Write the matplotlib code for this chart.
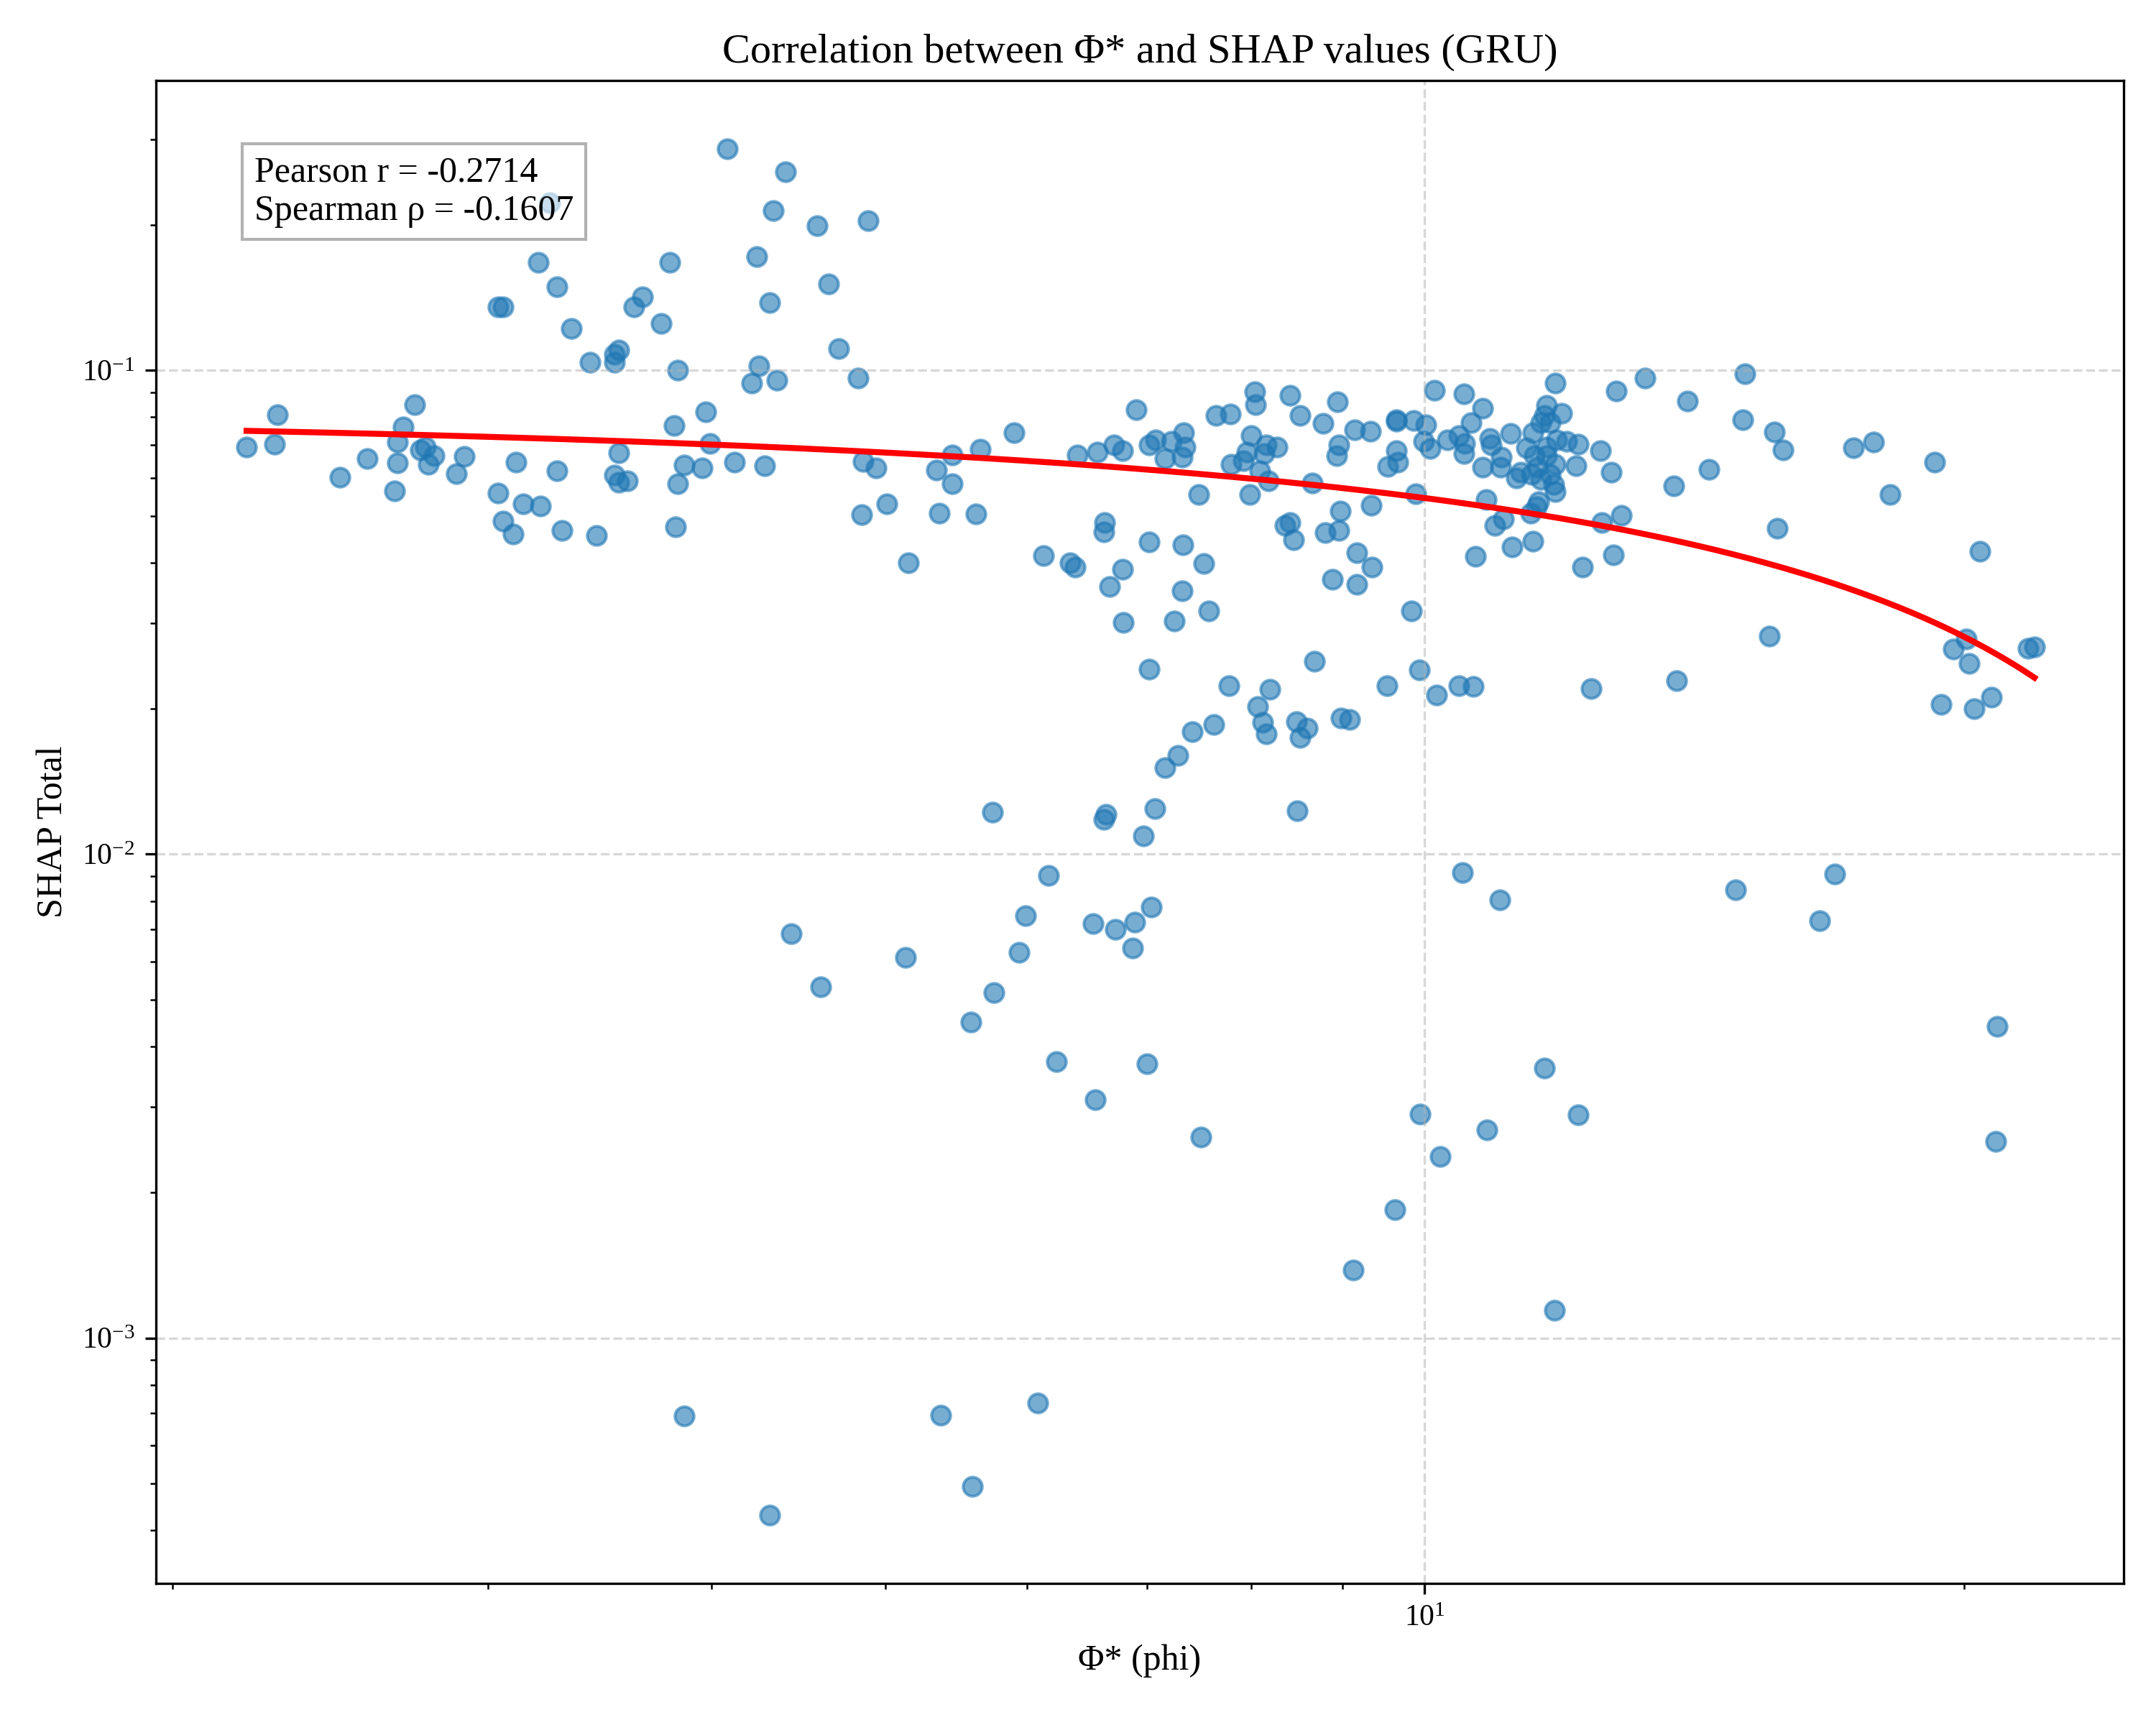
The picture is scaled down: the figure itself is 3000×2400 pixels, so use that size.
#!/usr/bin/env python3
"""Scatter of phi* against total SHAP value for the GRU model, log-log."""

import numpy as np
import matplotlib

matplotlib.use("Agg")
import matplotlib.pyplot as plt

plt.rcParams["font.family"] = ["Liberation Serif", "DejaVu Serif"]
plt.rcParams["mathtext.fontset"] = "stix"

# phi* per feature
phi = [
    3.25, 3.20, 3.79, 3.28, 3.66, 3.62, 3.04, 3.06, 3.75, 3.34,
    3.55, 3.53, 3.53, 3.42, 3.83, 2.29, 2.73, 3.81, 2.69, 2.20,
    2.28, 2.67, 2.75, 2.77, 2.80, 2.91, 2.57, 2.67, 2.78, 3.55,
    3.11, 3.28, 2.88, 2.48, 3.53, 3.55, 3.59, 3.83, 3.86, 2.66,
    3.04, 3.14, 3.21, 3.06, 3.10, 3.30, 3.45, 3.82,
    4.08, 4.40, 4.33, 4.58, 4.89, 4.24, 4.65, 4.31, 4.71, 4.25,
    4.21, 4.35, 4.83, 6.90, 3.97,
    3.99, 3.95, 4.12, 4.28, 5.90, 4.86, 4.94, 5.45, 5.65, 5.34,
    5.45, 5.01, 4.85, 5.36, 5.62, 5.15, 6.40, 6.57, 6.71, 6.78,
    6.63, 6.62, 6.13, 6.34, 6.38, 6.78, 6.67, 6.79, 5.74, 6.64,
    6.62, 6.97,
    8.04, 8.05, 8.41, 7.65, 7.79, 8.52, 8.94, 8.78, 9.14, 9.33,
    9.64, 9.64, 9.86, 10.02, 10.13, 10.52, 10.77, 10.62, 11.83, 12.79,
    13.27, 7.08, 7.22, 7.34, 7.35, 7.16, 7.32, 7.02, 8.00, 7.96,
    7.92, 7.80, 8.16, 8.27, 8.14, 8.09, 8.18, 7.99, 7.48, 8.96,
    8.93, 8.66, 9.64, 9.66, 9.54, 9.99, 10.07, 10.30, 10.45, 10.53,
    10.52, 10.87, 10.89, 11.17, 10.77, 11.04, 11.03, 11.25, 11.31, 9.89,
    9.34, 8.97, 10.82, 11.07, 10.94, 11.46, 11.19, 11.49, 10.68, 11.70,
    11.93, 11.66, 11.75, 11.61, 11.49, 11.85, 12.00, 12.18, 11.40, 11.70,
    11.52, 11.70, 11.83, 11.56, 11.47, 11.75, 11.61, 11.81, 11.83, 11.58,
    11.55, 12.15, 12.54, 12.71, 12.56, 12.88, 12.75, 12.25, 7.02, 7.33,
    7.53, 7.32, 7.25, 7.58, 8.36, 8.41, 8.45, 8.80, 8.96, 9.17,
    9.35, 8.88, 9.17, 9.83, 8.68, 7.78, 8.20, 8.07, 8.12, 8.16,
    8.48, 8.60, 8.52, 8.98, 9.08, 9.53, 9.93, 10.16, 10.45, 10.65,
    12.39, 7.63, 7.42, 7.28, 7.16, 7.02, 7.07, 8.49,
    14.02, 15.10, 15.05, 15.67, 15.85, 17.35, 17.81, 19.26, 18.19, 13.77,
    14.41, 15.74, 20.41, 15.58, 13.83, 20.06, 19.73, 20.14, 21.72, 21.90,
    19.43, 20.27, 20.72,
    6.17, 5.99, 7.04, 6.53, 6.72, 6.89, 6.87, 4.43, 5.13, 5.94,
    4.60, 5.75, 5.58, 6.23, 7.00, 6.55, 7.50, 9.12, 3.86, 5.37,
    6.08, 5.59, 4.31,
    10.50, 11.02, 14.92, 16.94, 16.61, 20.88, 11.66, 9.94, 12.18, 10.83,
    10.20, 20.84, 9.63, 11.82,
]

# total SHAP value, same order as phi
shap_total = [
    0.222, 0.167, 0.167, 0.149, 0.142, 0.135, 0.135, 0.135, 0.125, 0.122,
    0.110, 0.108, 0.104, 0.104, 0.100, 0.0808, 0.0848, 0.0769, 0.0763, 0.0694,
    0.0704, 0.0710, 0.0684, 0.0694, 0.0667, 0.0664, 0.0656, 0.0644, 0.0640, 0.0675,
    0.0646, 0.0620, 0.0612, 0.0602, 0.0608, 0.0586, 0.0590, 0.0582, 0.0637, 0.0563,
    0.0557, 0.0530, 0.0524, 0.0488, 0.0458, 0.0467, 0.0455, 0.0474,
    0.287, 0.257, 0.214, 0.199, 0.204, 0.172, 0.151, 0.138, 0.111, 0.102,
    0.0942, 0.0955, 0.0964, 0.0829, 0.0821,
    0.0707, 0.0628, 0.0645, 0.0635, 0.0742, 0.0649, 0.0628, 0.0669, 0.0686, 0.0621,
    0.0583, 0.0530, 0.0503, 0.0507, 0.0505, 0.0400, 0.0669, 0.0677, 0.0702, 0.0683,
    0.0485, 0.0463, 0.0414, 0.0400, 0.0392, 0.0388, 0.0357, 0.0301, 0.0122, 0.0121,
    0.0118, 0.0109,
    0.0903, 0.0850, 0.0888, 0.0806, 0.0812, 0.0806, 0.0861, 0.0776, 0.0752, 0.0748,
    0.0790, 0.0785, 0.0788, 0.0772, 0.0908, 0.0895, 0.0835, 0.0779, 0.0940, 0.0906,
    0.0964, 0.0718, 0.0712, 0.0742, 0.0695, 0.0656, 0.0662, 0.0700, 0.0732, 0.0677,
    0.0651, 0.0640, 0.0700, 0.0695, 0.0674, 0.0620, 0.0590, 0.0554, 0.0553, 0.0700,
    0.0667, 0.0585, 0.0683, 0.0645, 0.0632, 0.0714, 0.0689, 0.0718, 0.0732, 0.0706,
    0.0674, 0.0723, 0.0700, 0.0740, 0.0630, 0.0662, 0.0630, 0.0599, 0.0615, 0.0556,
    0.0526, 0.0512, 0.0540, 0.0493, 0.0478, 0.0506, 0.0432, 0.0443, 0.0413, 0.0846,
    0.0816, 0.0806, 0.0779, 0.0779, 0.0742, 0.0718, 0.0712, 0.0704, 0.0692, 0.0695,
    0.0667, 0.0667, 0.0640, 0.0630, 0.0610, 0.0610, 0.0594, 0.0581, 0.0561, 0.0535,
    0.0522, 0.0635, 0.0681, 0.0615, 0.0485, 0.0501, 0.0415, 0.0392, 0.0442, 0.0436,
    0.0399, 0.0350, 0.0303, 0.0318, 0.0478, 0.0485, 0.0447, 0.0462, 0.0467, 0.0420,
    0.0392, 0.0370, 0.0361, 0.0318, 0.0250, 0.0223, 0.0219, 0.0202, 0.0187, 0.0177,
    0.0188, 0.0182, 0.0174, 0.0191, 0.0190, 0.0223, 0.0240, 0.0213, 0.0223, 0.0222,
    0.0220, 0.0185, 0.0179, 0.0160, 0.0151, 0.0241, 0.0124, 0.0123,
    0.0863, 0.0982, 0.0790, 0.0745, 0.0684, 0.0692, 0.0711, 0.0646, 0.0553, 0.0576,
    0.0625, 0.0472, 0.0422, 0.0282, 0.0228, 0.0278, 0.0265, 0.0248, 0.0266, 0.0268,
    0.0204, 0.0200, 0.0211,
    0.00904, 0.00745, 0.00776, 0.00718, 0.00699, 0.00723, 0.00640, 0.00685, 0.00611, 0.00626,
    0.00532, 0.00517, 0.00450, 0.00372, 0.00369, 0.00311, 0.00260, 0.00138, 0.000689, 0.000693,
    0.000735, 0.000493, 0.000431,
    0.00917, 0.00803, 0.00844, 0.00910, 0.00728, 0.00441, 0.00361, 0.00290, 0.00289, 0.00269,
    0.00237, 0.00255, 0.00184, 0.00114,
]

pearson_r = -0.2714
spearman_rho = -0.1607

# linear fit (in linear space) shown as the red curve
fit_slope = -0.00263
fit_intercept = 0.08075


def main():
    fig, ax = plt.subplots(figsize=(10, 8), dpi=300)

    ax.scatter(phi, shap_total, s=40, alpha=0.6)

    x_fit = np.linspace(min(phi), max(phi), 200)
    ax.plot(x_fit, fit_intercept + fit_slope * x_fit, color="red", linewidth=2)

    ax.set_xscale("log")
    ax.set_yscale("log")
    ax.set_xlim(1.958, 24.56)
    ax.set_ylim(3.11e-4, 0.397)

    ax.set_title("Correlation between Φ* and SHAP values (GRU)", fontsize=14)
    ax.set_xlabel("Φ* (phi)", fontsize=12)
    ax.set_ylabel("SHAP Total", fontsize=12)
    ax.grid(True, linestyle="--", alpha=0.5)

    ax.text(
        0.05,
        0.95,
        f"Pearson r = {pearson_r:.4f}\nSpearman ρ = {spearman_rho:.4f}",
        transform=ax.transAxes,
        fontsize=12,
        verticalalignment="top",
        bbox=dict(facecolor="white", alpha=0.6, edgecolor="gray"),
    )

    fig.subplots_adjust(left=0.0723, right=0.985, top=0.9533, bottom=0.0821)
    fig.savefig("out.png", dpi=300)


if __name__ == "__main__":
    main()
